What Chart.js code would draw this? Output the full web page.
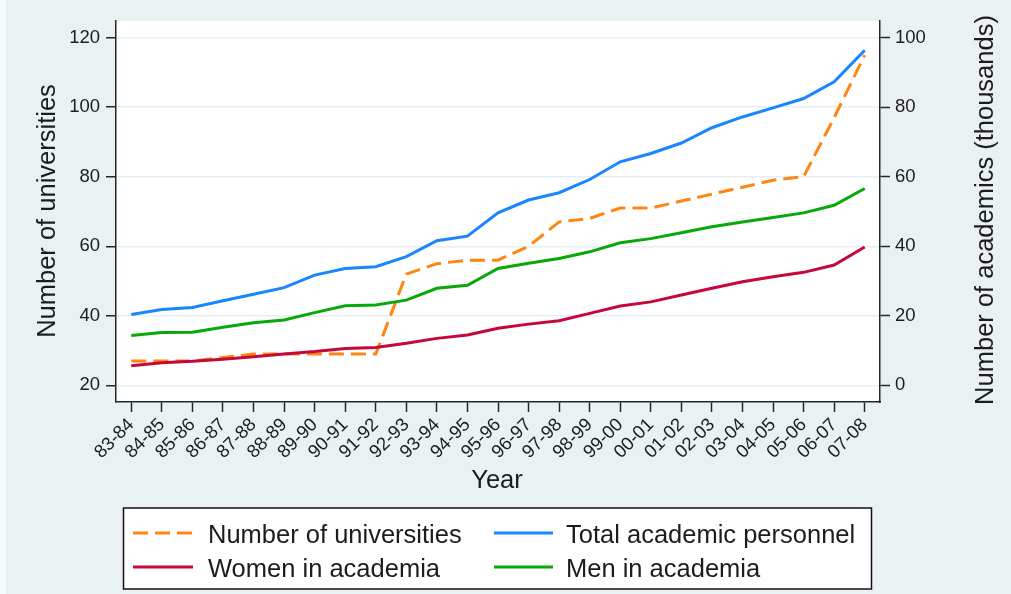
<!DOCTYPE html>
<html>
<head>
<meta charset="utf-8">
<script src="https://cdn.jsdelivr.net/npm/chart.js@4.4.1/dist/chart.umd.min.js"></script>
<style>
  html, body { margin: 0; padding: 0; background: #eaf1f3; }
  canvas { display: block; }
</style>
</head>
<body>
<canvas id="chart" width="1011" height="594"></canvas>
<script>
// Academic years
const years = ['83-84','84-85','85-86','86-87','87-88','88-89','89-90','90-91','91-92','92-93',
  '93-94','94-95','95-96','96-97','97-98','98-99','99-00','00-01','01-02','02-03',
  '03-04','04-05','05-06','06-07','07-08'];

// Number of universities (left axis)
const universities = [27, 27, 27, 28, 29, 29, 29, 29, 29, 52, 55, 56, 56, 60, 67, 68, 71, 71, 73, 75, 77, 79, 80, 97, 115];

// Academic staff, thousands (right axis)
const totalAcademics = [20.4, 21.8, 22.4, 24.3, 26.2, 28.1, 31.7, 33.6, 34.1, 37.0, 41.6, 42.9, 49.6,
  53.3, 55.4, 59.2, 64.3, 66.7, 69.7, 74.1, 77.2, 79.8, 82.5, 87.3, 96.4];
const womenAcademics = [5.6, 6.5, 6.9, 7.5, 8.2, 9.0, 9.7, 10.6, 10.9, 12.1, 13.5, 14.5, 16.4,
  17.6, 18.6, 20.7, 22.8, 24.0, 26.0, 27.9, 29.8, 31.2, 32.5, 34.6, 39.8];
const menAcademics = [14.3, 15.2, 15.3, 16.7, 18.0, 18.8, 20.9, 22.9, 23.1, 24.5, 27.9, 28.8, 33.6,
  35.1, 36.5, 38.4, 41.0, 42.2, 43.9, 45.6, 47.0, 48.3, 49.6, 51.8, 56.6];

// Tick values
const leftTicks = [20, 40, 60, 80, 100, 120];
const rightTicks = [0, 20, 40, 60, 80, 100];

const FONT = '"Liberation Sans", Arial, sans-serif';
const INK = '#1c1c1c';
const AXIS = '#262626';
const DASH = [15, 7];

// Background, plot panel, axis titles and the boxed legend
const frame = {
  id: 'frame',
  beforeDraw(chart) {
    const { ctx, chartArea: a } = chart;
    ctx.save();
    ctx.fillStyle = '#eaf1f3';
    ctx.fillRect(0, 0, chart.width, chart.height);
    ctx.fillStyle = '#f7fafb';
    ctx.fillRect(0, 0, 6, chart.height);
    ctx.fillStyle = '#ffffff';
    ctx.fillRect(a.left, a.top, a.right - a.left, a.bottom - a.top);
    ctx.restore();
  },
  afterDraw(chart) {
    const ctx = chart.ctx;
    ctx.save();
    ctx.fillStyle = INK;
    ctx.font = '25.5px ' + FONT;
    ctx.textAlign = 'center';
    ctx.textBaseline = 'middle';

    // vertical axis titles, both reading bottom to top
    ctx.save();
    ctx.translate(48, 211);
    ctx.rotate(-Math.PI / 2);
    ctx.fillText('Number of universities', 0, 0);
    ctx.restore();

    ctx.save();
    ctx.translate(986, 210);
    ctx.rotate(-Math.PI / 2);
    ctx.fillText('Number of academics (thousands)', 0, 0);
    ctx.restore();

    ctx.textBaseline = 'alphabetic';
    ctx.fillText('Year', 497, 488);

    // legend box
    const box = { x: 123.5, y: 508, w: 748, h: 81 };
    ctx.fillStyle = '#ffffff';
    ctx.fillRect(box.x, box.y, box.w, box.h);
    ctx.strokeStyle = '#111';
    ctx.lineWidth = 1.5;
    ctx.strokeRect(box.x, box.y, box.w, box.h);

    const cols = [{ x0: 133, x1: 193, tx: 208 }, { x0: 494, x1: 553, tx: 566 }];
    const rows = [533, 567];
    chart.data.datasets.forEach((ds, i) => {
      const c = cols[i % 2], r = rows[Math.floor(i / 2)];
      ctx.beginPath();
      ctx.setLineDash(ds.borderDash || []);
      ctx.strokeStyle = ds.borderColor;
      ctx.lineWidth = 3;
      ctx.moveTo(c.x0, r);
      ctx.lineTo(c.x1, r);
      ctx.stroke();
      ctx.setLineDash([]);
      ctx.fillStyle = INK;
      ctx.textAlign = 'left';
      ctx.textBaseline = 'alphabetic';
      ctx.fillText(ds.label, c.tx, r + 9.5);
    });
    ctx.restore();
  }
};

const tickFont = { family: FONT, size: 18.5 };

new Chart(document.getElementById('chart'), {
  type: 'line',
  data: {
    labels: years,
    datasets: [
      { label: 'Number of universities', data: universities, yAxisID: 'y',
        borderColor: '#ff8512', borderDash: DASH, order: 4 },
      { label: 'Total academic personnel', data: totalAcademics, yAxisID: 'y1',
        borderColor: '#1985ff', order: 3 },
      { label: 'Women in academia', data: womenAcademics, yAxisID: 'y1',
        borderColor: '#c6073b', order: 1 },
      { label: 'Men in academia', data: menAcademics, yAxisID: 'y1',
        borderColor: '#08a808', order: 2 }
    ]
  },
  options: {
    responsive: false,
    animation: false,
    devicePixelRatio: 1,
    layout: { padding: { top: 21, left: 0, right: 0, bottom: 0 } },
    elements: {
      line: { tension: 0, borderWidth: 3, fill: false },
      point: { radius: 0, hoverRadius: 0 }
    },
    plugins: { legend: { display: false }, tooltip: { enabled: false } },
    scales: {
      x: {
        type: 'category',
        offset: true,
        grid: { offset: false, drawOnChartArea: false, tickLength: 10, tickColor: AXIS, tickWidth: 1.5 },
        border: { color: AXIS, width: 1.5 },
        ticks: { autoSkip: false, maxRotation: 45, minRotation: 45, padding: 2, color: INK, font: tickFont },
        afterFit(s) { s.height = 192; }
      },
      y: {
        position: 'left',
        min: 15.2,
        max: 124.8,
        afterBuildTicks(s) { s.ticks = leftTicks.map(v => ({ value: v })); },
        grid: { color: '#e6eef1', lineWidth: 1.5, tickLength: 10, tickColor: AXIS, tickWidth: 1.5 },
        border: { color: AXIS, width: 1.5 },
        ticks: { padding: 6, color: INK, font: tickFont },
        afterFit(s) { s.width = 116; }
      },
      y1: {
        position: 'right',
        min: -4.8,
        max: 104.8,
        afterBuildTicks(s) { s.ticks = rightTicks.map(v => ({ value: v })); },
        grid: { drawOnChartArea: false, tickLength: 10, tickColor: AXIS, tickWidth: 1.5 },
        border: { color: AXIS, width: 1.5 },
        ticks: { padding: 5, color: INK, font: tickFont },
        afterFit(s) { s.width = 131; }
      }
    }
  },
  plugins: [frame]
});
</script>
</body>
</html>
